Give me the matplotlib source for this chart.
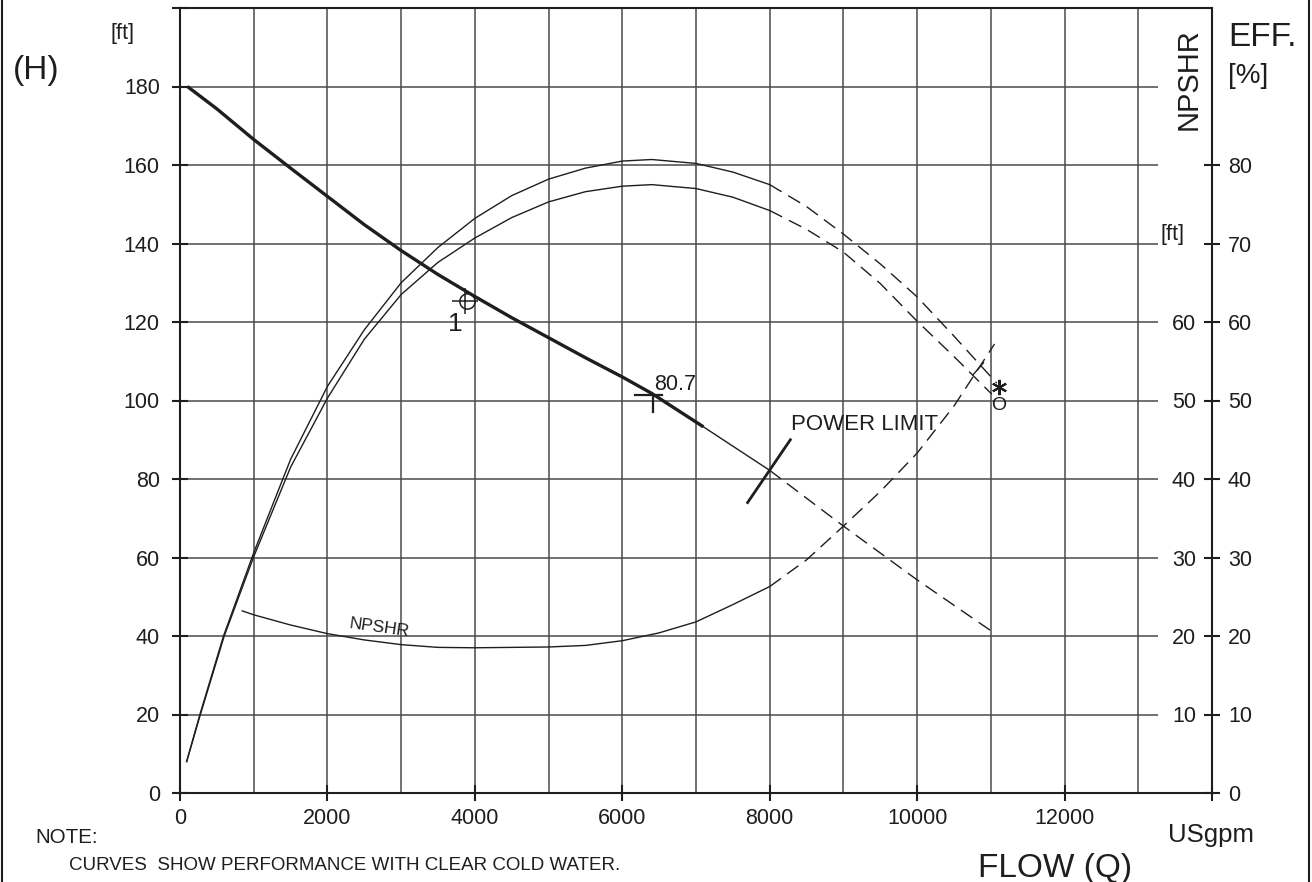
import matplotlib
matplotlib.use('Agg')
import matplotlib.pyplot as plt
from matplotlib.lines import Line2D

plt.rcParams['font.family'] = ['Liberation Sans', 'DejaVu Sans']

# Head curve H [ft] vs flow Q [USgpm]
h_q_thick = [100, 500, 1000, 1500, 2000, 2500, 3000, 3500, 4000, 4500, 5000, 5500, 6000, 6400, 7100]
h_thick = [180, 174.3, 166.5, 159.2, 152, 144.8, 138.2, 132.1, 126.5, 121.1, 116, 110.9, 106, 101.8, 93.3]
h_q_thin = [7100, 8000]
h_thin = [93.3, 82.2]
h_q_dash = [8000, 9000, 10000, 11050]
h_dash = [82.2, 68, 54.3, 40.7]

# Efficiency curves [%]
eff1_q = [90, 270, 590, 1000, 1500, 2000, 2500, 3000, 3500, 4000, 4500, 5000, 5500,
          6000, 6400, 7000, 7500, 8000]
eff1 = [4, 10, 20, 30.6, 42.5, 51.8, 59, 65, 69.5, 73.2, 76.1, 78.2, 79.6,
        80.5, 80.7, 80.2, 79.1, 77.5]
eff1_q_dash = [8000, 8500, 9000, 9500, 10000, 10500, 11080]
eff1_dash = [77.5, 74.7, 71.2, 67.4, 63.2, 58.2, 52.2]

eff2_q = [90, 270, 600, 1000, 1500, 2000, 2500, 3000, 3500, 4000, 4500, 5000, 5500,
          6000, 6400, 7000, 7500, 8000]
eff2 = [4, 9.8, 20, 30.1, 41.5, 50.3, 57.8, 63.5, 67.6, 70.7, 73.3, 75.3, 76.6,
        77.3, 77.5, 77.0, 75.9, 74.2]
eff2_q_dash = [8000, 8500, 9000, 9500, 10000, 10500, 11013]
eff2_dash = [74.2, 71.8, 68.9, 64.9, 60.1, 55.6, 50.8]

# NPSHR [ft]
npsh_q = [845, 1000, 1500, 2000, 2500, 3000, 3500, 4000, 5000, 5500, 6000, 6500, 7000, 7500, 8000]
npsh = [23.2, 22.7, 21.4, 20.3, 19.5, 18.9, 18.55, 18.5, 18.6, 18.8, 19.4, 20.4, 21.8, 24, 26.3]
npsh_q_dash = [8000, 8500, 9000, 9500, 10000, 10500, 11050]
npsh_dash = [26.3, 29.7, 34, 38.4, 43.3, 49.3, 57.2]

# markers / annotations
duty_q, duty_h = 3890, 125.3
bep_q, bep_h = 6410, 101.5
power_limit_q = [7700, 8280]
power_limit_h = [74, 90]
end_q, end_eff = 11117, 51.7

x_ticks = list(range(0, 14001, 2000))
x_labels = ['0', '2000', '4000', '6000', '8000', '10000', '12000', '']
h_ticks = list(range(0, 201, 20))
h_labels = [str(v) for v in range(0, 181, 20)] + ['']
eff_ticks = list(range(0, 81, 10))
npsh_ticks = list(range(10, 61, 10))

W, H = 1312, 882
ink = '#1e1e1e'
grid_c = '#4a4a4a'
dash = (0, (10, 5.5))


def fx(px):
    return px / W


def fy(py):
    return 1 - py / H


fig = plt.figure(figsize=(W / 100, H / 100), dpi=100)
ax = fig.add_axes([fx(180), fy(793), (1212 - 180) / W, (793 - 8) / H])
ax.set_xlim(0, 14000)
ax.set_ylim(0, 200)

# grid
ax.vlines(range(1000, 14000, 1000), 0, 200, color=grid_c, lw=1.1, zorder=0)
ax.hlines(range(20, 200, 20), 0, 13270, color=grid_c, lw=1.1, zorder=0)

ax.set_xticks(x_ticks)
ax.set_xticklabels(x_labels)
ax.set_yticks(h_ticks)
ax.set_yticklabels(h_labels)
ax.tick_params(axis='both', direction='inout', length=11, width=1.5,
               color=ink, labelcolor=ink, labelsize=15.5)
ax.tick_params(axis='y', pad=9)
ax.tick_params(axis='x', pad=5)
for s in ax.spines.values():
    s.set_color(ink)
    s.set_linewidth(1.5)

line_kw = dict(color=ink, solid_joinstyle='round', dash_joinstyle='round')

# head curve
ax.plot(h_q_thick, h_thick, lw=2.4, solid_capstyle='butt', **line_kw)
ax.plot(h_q_thin, h_thin, lw=1.0, **line_kw)
ax.plot(h_q_dash, h_dash, lw=1.0, linestyle=dash, **line_kw)
ax.plot(power_limit_q, power_limit_h, color=ink, lw=2.0)
ax.text(8290, 93.9, 'POWER LIMIT', fontsize=16, color=ink, va='center', ha='left')

# duty point 1
ax.plot(duty_q, duty_h, marker='o', ms=11, mfc='none', mec=ink, mew=1.1)
ax.plot(duty_q - 20, duty_h, marker='+', ms=19, mec=ink, mew=1.1)
ax.text(3740, 119.5, '1', fontsize=19, color=ink, ha='center', va='center')

# best efficiency point
ax.plot([6174, 6540], [bep_h, bep_h], color=ink, lw=1.6)
ax.plot([bep_q, bep_q], [bep_h, 97], color=ink, lw=1.6)
ax.text(6430, 102.8, '80.7', fontsize=15.5, color=ink, ha='left', va='baseline')

# efficiency axis
ax2 = ax.twinx()
ax2.set_ylim(0, 100)
ax2.set_yticks(eff_ticks)
ax2.tick_params(axis='y', direction='inout', length=11, width=1.5,
                color=ink, labelcolor=ink, labelsize=15.5, pad=6)
for s in ax2.spines.values():
    s.set_visible(False)
ax2.plot(eff1_q, eff1, lw=1.0, **line_kw)
ax2.plot(eff1_q_dash, eff1_dash, lw=1.0, linestyle=dash, **line_kw)
ax2.plot(eff2_q, eff2, lw=1.0, **line_kw)
ax2.plot(eff2_q_dash, eff2_dash, lw=1.0, linestyle=dash, **line_kw)
ax2.plot([10760, 10900], [53.3, 54.8], color=ink, lw=1.0)
ax2.plot(end_q, end_eff, marker=(6, 2, 0), ms=11, mec=ink, mew=1.5)
ax2.text(11113, 49.4, 'O', fontsize=14, color=ink, ha='center', va='center')

# NPSHR axis (labels inside the right spine)
ax3 = ax.twinx()
ax3.set_ylim(0, 100)
ax3.set_yticks(npsh_ticks)
ax3.tick_params(axis='y', length=0, labelcolor=ink, labelsize=15.5, pad=-11.5)
plt.setp(ax3.get_yticklabels(), ha='right')
for s in ax3.spines.values():
    s.set_visible(False)
ax3.plot(npsh_q, npsh, lw=1.0, **line_kw)
ax3.plot(npsh_q_dash, npsh_dash, lw=1.0, linestyle=dash, **line_kw)
ax3.text(2700, 21.0, 'NPSHR', fontsize=12.5, color=ink, rotation=-8,
         ha='center', va='center')

# outer labels
fig.text(fx(122), fy(33), '[ft]', fontsize=15.5, color=ink, ha='center', va='center')
fig.text(fx(36), fy(70), '(H)', fontsize=24, color=ink, ha='center', va='center')
fig.text(fx(1262), fy(37), 'EFF.', fontsize=24, color=ink, ha='center', va='center')
fig.text(fx(1248), fy(76), '[%]', fontsize=20, color=ink, ha='center', va='center')
fig.text(fx(1189), fy(79), 'NPSHR', fontsize=21, color=ink, rotation=90,
         ha='center', va='center')
fig.text(fx(1173), fy(234), '[ft]', fontsize=15.5, color=ink, ha='center', va='center')
fig.text(fx(1211), fy(842), 'USgpm', fontsize=18.5, color=ink, ha='center', va='baseline')
fig.text(fx(1055), fy(877), 'FLOW (Q)', fontsize=24, color=ink, ha='center', va='baseline')
fig.text(fx(35), fy(843), 'NOTE:', fontsize=14.8, color=ink, ha='left', va='baseline')
fig.text(fx(69), fy(870), 'CURVES  SHOW PERFORMANCE WITH CLEAR COLD WATER.',
         fontsize=13.5, color=ink, ha='left', va='baseline')

# page frame
fig.add_artist(Line2D([fx(2), fx(2)], [0, 1], color=ink, lw=1.5))
fig.add_artist(Line2D([fx(1309), fx(1309)], [0, 1], color=ink, lw=1.5))

fig.savefig('out.png', dpi=100)
